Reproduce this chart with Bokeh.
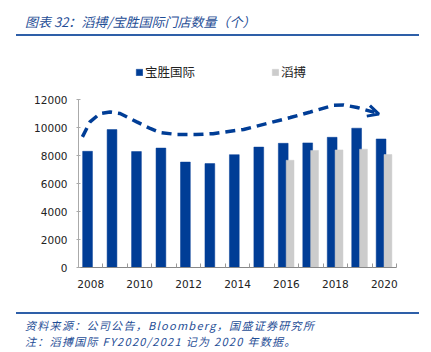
from bokeh.plotting import figure
from bokeh.models import (FixedTicker, Legend, LegendItem, Arrow, OpenHead,
                          ColumnDataSource, Div)
from bokeh.layouts import column
from bokeh.embed import file_html
from bokeh.resources import INLINE

# ---------------- data ----------------
years = [2008, 2009, 2010, 2011, 2012, 2013, 2014, 2015, 2016, 2017, 2018, 2019, 2020]
pousheng = [8300, 9850, 8280, 8530, 7530, 7420, 8060, 8600, 8870, 8900, 9300, 9950, 9180]
topsports_years = [2016, 2017, 2018, 2019, 2020]
topsports = [7660, 8360, 8400, 8450, 8070]
xtick_labels = [2008, 2010, 2012, 2014, 2016, 2018, 2020]
yticks = [0, 2000, 4000, 6000, 8000, 10000, 12000]

# hand-drawn trend arrow (decorative annotation)
trend_x = [2007.66, 2007.97, 2008.38, 2008.79, 2009.2, 2009.88, 2010.43, 2010.84,
           2011.52, 2012.3, 2013.0, 2014.25, 2015.21, 2016.16, 2016.98, 2017.93,
           2018.34, 2018.89, 2019.6]
trend_y = [9330, 10400, 11000, 11110, 11000, 10400, 9930, 9640,
           9500, 9500, 9560, 9860, 10290, 10710, 11110, 11590,
           11610, 11430, 11080]

title_text = "图表 32：滔搏/宝胜国际门店数量（个）"
source_text = "资料来源：公司公告，Bloomberg，国盛证券研究所"
note_text = "注：滔搏国际 FY2020/2021 记为 2020 年数据。"

BLUE = "#003d96"
GRAY = "#cccccc"
TXT_BLUE = "#1f4e96"
LINE_BLUE = "#2e5fa8"

W = 431
TITLE_H = 38
FIG_H = 262
FOOT_H = 352 - TITLE_H - FIG_H
# frame: canvas y 60..267, x 78..396 ; 12000 spans 168 px
FL, FR = 78, 35
FT = 60 - TITLE_H
FB = TITLE_H + FIG_H - 267
frame_h = 267 - 60
y_top = 12000 * frame_h / 168.0

p = figure(width=W, height=FIG_H, output_backend="svg", toolbar_location=None,
           x_range=(2007.5, 2020.5), y_range=(0, y_top),
           min_border_left=FL, min_border_right=FR,
           min_border_top=FT, min_border_bottom=FB, margin=0)
p.outline_line_color = None
p.grid.visible = False
p.background_fill_color = "white"
p.border_fill_color = "white"

src_a = ColumnDataSource(dict(x=[y - 0.13 for y in years], top=pousheng))
src_b = ColumnDataSource(dict(x=[y + 0.15 for y in topsports_years], top=topsports))
r1 = p.vbar(x="x", top="top", width=0.4, source=src_a, fill_color=BLUE, line_color=BLUE, line_width=0.5)
r2 = p.vbar(x="x", top="top", width=0.32, source=src_b, fill_color=GRAY, line_color=GRAY, line_width=0.5)

# trend curve
p.line(trend_x, trend_y, line_color=BLUE, line_width=3.5, line_dash="10 6")
p.add_layout(Arrow(x_start=trend_x[-2], y_start=trend_y[-2], x_end=2019.78, y_end=10960,
                   line_alpha=0,
                   end=OpenHead(size=11, line_color=BLUE, line_width=3)))

# axes
xa = p.xaxis[0]
xa.ticker = FixedTicker(ticks=xtick_labels, minor_ticks=[y - 0.5 for y in years] + [2020.5])
xa.major_tick_in = 0
xa.major_tick_out = 0
xa.minor_tick_in = 4
xa.minor_tick_out = 0
xa.minor_tick_line_color = "#999999"
xa.axis_line_color = "#888888"
xa.major_label_standoff = 12
xa.major_label_text_font = "DejaVu Sans"
xa.major_label_text_font_size = "10.5px"
xa.major_label_text_color = "#222222"

ya = p.yaxis[0]
ya.ticker = FixedTicker(ticks=yticks)
ya.bounds = (0, 12000)
ya.major_tick_in = 2
ya.major_tick_out = 2
ya.minor_tick_line_color = None
ya.axis_line_color = "#aaaaaa"
ya.major_tick_line_color = "#aaaaaa"
ya.major_label_standoff = 9
ya.major_label_text_font = "DejaVu Sans"
ya.major_label_text_font_size = "10.5px"
ya.major_label_text_color = "#222222"

# legend (inside frame, above the bars)
legend = Legend(items=[LegendItem(label="宝胜国际", renderers=[r1]),
                       LegendItem(label="滔搏", renderers=[r2])],
                orientation="horizontal", location=(135 - FL, 267 - 81),
                padding=0, margin=0, spacing=76,
                glyph_width=8, glyph_height=8, label_standoff=2,
                label_height=12, label_width=10,
                border_line_alpha=0, background_fill_alpha=0,
                label_text_font="Noto Sans CJK SC", label_text_font_size="12.5px",
                label_text_color="#222222")
p.add_layout(legend, "center")

title_css = ("font-family:'Noto Sans CJK SC';font-style:italic;font-size:13px;"
             "letter-spacing:0px;color:%s;" % TXT_BLUE)
foot_css = ("font-family:'Noto Sans CJK SC';font-style:italic;font-size:11px;"
            "letter-spacing:1.3px;color:%s;" % TXT_BLUE)

title_div = Div(width=W, height=TITLE_H, margin=0, text=(
    '<div style="position:relative;margin-left:16px;width:403px;height:36px;'
    'border-bottom:2px solid %s;">'
    '<span style="position:absolute;left:9px;top:12px;line-height:19px;white-space:pre;%s">%s</span>'
    '</div>') % (LINE_BLUE, title_css, title_text))

footer_div = Div(width=W, height=FOOT_H, margin=0, text=(
    '<div style="position:relative;margin-left:16px;margin-top:12px;width:403px;height:34px;'
    'border-top:2px solid %s;">'
    '<div style="position:absolute;left:9px;top:3px;line-height:16px;white-space:pre;%s">'
    '<div>%s</div><div>%s</div></div>'
    '</div>') % (LINE_BLUE, foot_css, source_text, note_text))

layout = column(title_div, p, footer_div, spacing=0, margin=0)

open("out.html", "w").write(file_html(layout, INLINE))
